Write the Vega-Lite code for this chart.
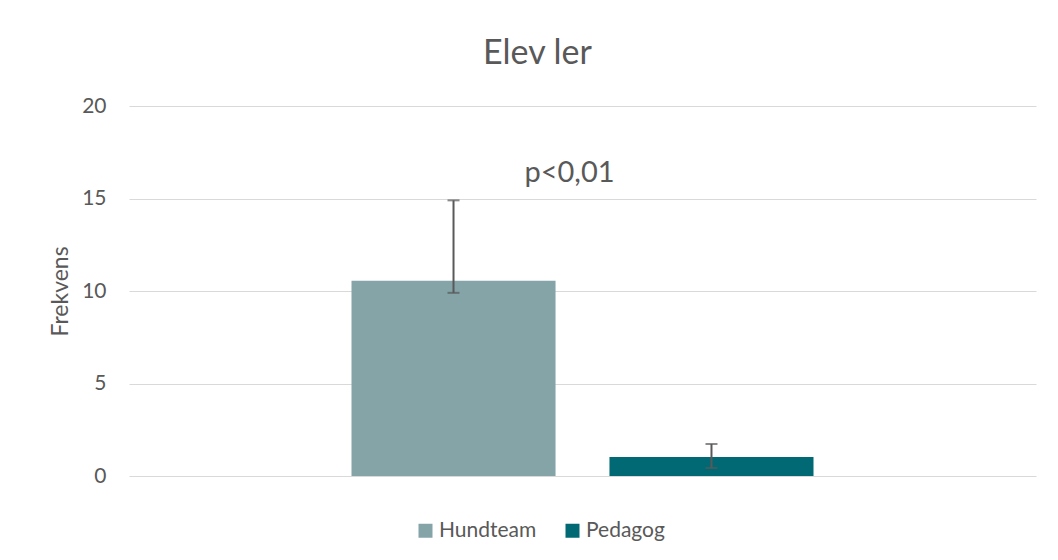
{
  "$schema": "https://vega.github.io/schema/vega-lite/v6.json",
  "width": 907,
  "height": 370,
  "autosize": {"type": "none"},
  "padding": {"left": 129, "top": 106, "right": 22, "bottom": 84},
  "background": "white",
  "config": {"font": "Lato", "view": {"stroke": null}},
  "title": {"text": "Elev ler", "fontSize": 34, "fontWeight": "normal", "color": "#595959", "offset": 24, "dx": -45, "anchor": "middle", "font": "Lato"},
  "datasets": {
    "bars": [
      {"gruppe": "Elev ler", "serie": "Hundteam", "frekvens": 10.55, "lav": 9.9, "hoy": 14.9},
      {"gruppe": "Elev ler", "serie": "Pedagog", "frekvens": 1.03, "lav": 0.43, "hoy": 1.73}
    ],
    "note": [
      {"gruppe": "Elev ler", "tekst": "p<0,01", "yverdi": 15.9}
    ]
  },
  "layer": [
    {
      "data": {"name": "bars"},
      "mark": {"type": "bar"},
      "encoding": {
        "x": {"field": "gruppe", "type": "nominal", "axis": null, "scale": {"paddingInner": 0, "paddingOuter": 0.4816}},
        "xOffset": {"field": "serie", "type": "nominal", "scale": {"paddingInner": 0.209, "paddingOuter": 0}},
        "y": {"field": "frekvens", "type": "quantitative", "title": "Frekvens",
          "scale": {"domain": [0, 20], "nice": false},
          "axis": {"values": [0, 5, 10, 15, 20], "grid": true, "gridColor": "#D9D9D9", "gridWidth": 1, "domain": false, "ticks": false, "tickSize": 0, "labelPadding": 23, "labelFontSize": 21, "labelColor": "#595959", "titleFontSize": 23, "titleFontWeight": "normal", "titleColor": "#595959", "titlePadding": 9}},
        "color": {"field": "serie", "type": "nominal",
          "scale": {"domain": ["Hundteam", "Pedagog"], "range": ["#85A4A8", "#006973"]},
          "legend": {"orient": "none", "legendX": 286, "legendY": 414, "direction": "horizontal", "title": null, "symbolType": "square", "symbolSize": 196, "symbolStrokeWidth": 0, "labelFontSize": 21, "labelColor": "#595959", "columnPadding": 25, "labelOffset": 3, "padding": 0}}
      }
    },
    {
      "data": {"name": "bars"},
      "mark": {"type": "rule", "color": "#595959", "strokeWidth": 2},
      "encoding": {
        "x": {"field": "gruppe", "type": "nominal"},
        "xOffset": {"field": "serie", "type": "nominal"},
        "y": {"field": "lav", "type": "quantitative", "title": "Frekvens"},
        "y2": {"field": "hoy"}
      }
    },
    {
      "data": {"name": "bars"},
      "mark": {"type": "tick", "color": "#595959", "size": 12, "thickness": 2},
      "encoding": {
        "x": {"field": "gruppe", "type": "nominal"},
        "xOffset": {"field": "serie", "type": "nominal"},
        "y": {"field": "lav", "type": "quantitative", "title": "Frekvens"}
      }
    },
    {
      "data": {"name": "bars"},
      "mark": {"type": "tick", "color": "#595959", "size": 12, "thickness": 2},
      "encoding": {
        "x": {"field": "gruppe", "type": "nominal"},
        "xOffset": {"field": "serie", "type": "nominal"},
        "y": {"field": "hoy", "type": "quantitative", "title": "Frekvens"}
      }
    },
    {
      "data": {"name": "note"},
      "mark": {"type": "text", "fontSize": 29, "color": "#595959", "baseline": "alphabetic", "align": "center", "dx": -13},
      "encoding": {
        "x": {"field": "gruppe", "type": "nominal"},
        "y": {"field": "yverdi", "type": "quantitative", "title": "Frekvens"},
        "text": {"field": "tekst"}
      }
    }
  ]
}
